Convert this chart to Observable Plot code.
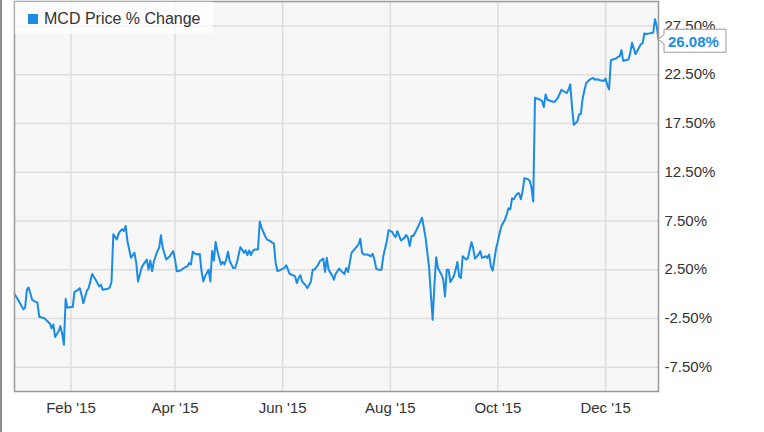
<!DOCTYPE html>
<html><head><meta charset="utf-8">
<script src="https://cdn.jsdelivr.net/npm/d3@7"></script>
<script src="https://cdn.jsdelivr.net/npm/@observablehq/plot@0.6"></script>
<style>
html,body{margin:0;padding:0;background:#fff;}
#chart{position:relative;width:764px;height:432px;overflow:hidden}
</style></head><body><div id="chart"></div>
<script>
const seriesName = "MCD Price % Change";
const lastLabel = "26.08%";
const dates = [
"2014-12-31","2015-01-02","2015-01-05","2015-01-06","2015-01-07","2015-01-08","2015-01-10","2015-01-11","2015-01-13","2015-01-14",
"2015-01-16","2015-01-17","2015-01-19","2015-01-20","2015-01-21","2015-01-22","2015-01-23","2015-01-25","2015-01-26","2015-01-27",
"2015-01-28","2015-01-29","2015-01-30","2015-02-01","2015-02-02","2015-02-03","2015-02-05","2015-02-06","2015-02-07","2015-02-08",
"2015-02-10","2015-02-11","2015-02-13","2015-02-15","2015-02-17","2015-02-18","2015-02-19","2015-02-22","2015-02-23","2015-02-24",
"2015-02-25","2015-02-27","2015-02-28","2015-03-01","2015-03-02","2015-03-03","2015-03-04","2015-03-05","2015-03-07","2015-03-08",
"2015-03-09","2015-03-10","2015-03-11","2015-03-13","2015-03-14","2015-03-16","2015-03-17","2015-03-18","2015-03-19","2015-03-20",
"2015-03-22","2015-03-23","2015-03-24","2015-03-25","2015-03-27","2015-03-29","2015-03-31","2015-04-01","2015-04-02","2015-04-04",
"2015-04-06","2015-04-08","2015-04-09","2015-04-10","2015-04-11","2015-04-12","2015-04-14","2015-04-15","2015-04-16","2015-04-17",
"2015-04-18","2015-04-20","2015-04-21","2015-04-22","2015-04-23","2015-04-24","2015-04-25","2015-04-27","2015-04-28","2015-04-29",
"2015-04-30","2015-05-01","2015-05-02","2015-05-04","2015-05-05","2015-05-06","2015-05-08","2015-05-09","2015-05-10","2015-05-11",
"2015-05-12","2015-05-13","2015-05-14","2015-05-15","2015-05-16","2015-05-18","2015-05-19","2015-05-20","2015-05-22","2015-05-23",
"2015-05-25","2015-05-26","2015-05-27","2015-05-28","2015-05-29","2015-05-31","2015-06-02","2015-06-03","2015-06-05","2015-06-07",
"2015-06-08","2015-06-09","2015-06-10","2015-06-11","2015-06-12","2015-06-14","2015-06-15","2015-06-17","2015-06-18","2015-06-19",
"2015-06-21","2015-06-22","2015-06-24","2015-06-25","2015-06-26","2015-06-27","2015-06-29","2015-06-30","2015-07-01","2015-07-03",
"2015-07-04","2015-07-06","2015-07-07","2015-07-08","2015-07-09","2015-07-10","2015-07-12","2015-07-14","2015-07-15","2015-07-16",
"2015-07-17","2015-07-19","2015-07-21","2015-07-22","2015-07-23","2015-07-24","2015-07-25","2015-07-27","2015-07-28","2015-07-30",
"2015-07-31","2015-08-02","2015-08-03","2015-08-04","2015-08-05","2015-08-07","2015-08-09","2015-08-10","2015-08-11","2015-08-12",
"2015-08-13","2015-08-14","2015-08-16","2015-08-18","2015-08-19","2015-08-21","2015-08-23","2015-08-24","2015-08-25","2015-08-26",
"2015-08-27","2015-08-28","2015-08-30","2015-08-31","2015-09-01","2015-09-02","2015-09-03","2015-09-04","2015-09-06","2015-09-07",
"2015-09-08","2015-09-09","2015-09-10","2015-09-11","2015-09-13","2015-09-14","2015-09-16","2015-09-17","2015-09-18","2015-09-20",
"2015-09-21","2015-09-22","2015-09-24","2015-09-25","2015-09-26","2015-09-27","2015-09-28","2015-09-30","2015-10-01","2015-10-02",
"2015-10-03","2015-10-05","2015-10-06","2015-10-07","2015-10-08","2015-10-09","2015-10-10","2015-10-11","2015-10-12","2015-10-13",
"2015-10-14","2015-10-15","2015-10-16","2015-10-18","2015-10-19","2015-10-20","2015-10-21","2015-10-22","2015-10-25","2015-10-26",
"2015-10-27","2015-10-28","2015-10-29","2015-10-31","2015-11-02","2015-11-04","2015-11-06","2015-11-07","2015-11-09","2015-11-10",
"2015-11-11","2015-11-12","2015-11-13","2015-11-15","2015-11-16","2015-11-17","2015-11-18","2015-11-19","2015-11-20","2015-11-22",
"2015-11-24","2015-11-25","2015-11-26","2015-11-28","2015-11-30","2015-12-01","2015-12-02","2015-12-03","2015-12-04","2015-12-05",
"2015-12-07","2015-12-08","2015-12-09","2015-12-10","2015-12-11","2015-12-12","2015-12-14","2015-12-15","2015-12-16","2015-12-18",
"2015-12-19","2015-12-20","2015-12-21","2015-12-22","2015-12-23","2015-12-24","2015-12-26","2015-12-28","2015-12-29","2015-12-30",
"2015-12-31"
];
const pct = [
0,-0.60,-1.57,-1.40,0.43,0.67,-0.60,-0.71,-0.88,-2.33,
-2.43,-2.50,-2.84,-3.02,-3.53,-3.12,-4.40,-3.81,-3.29,-4.05,
-5.20,-0.50,-1.40,-1.33,-1.33,0.19,0.43,0.60,-0.09,-0.95,
0.33,0.60,2.05,1.47,0.78,0.95,0.43,0.53,0.67,1.29,
6.12,5.60,6.19,6.47,6.64,6.47,6.98,5.43,3.71,3.98,
4.22,3.19,1.29,2.67,3.02,3.53,2.50,3.43,2.33,3.36,
4.40,4.74,6.02,4.74,3.53,3.88,4.40,3.53,2.33,2.40,
2.67,2.84,3.19,3.02,4.33,4.16,4.05,4.12,2.33,1.29,
1.81,2.50,1.29,4.40,3.43,5.33,4.40,3.02,3.29,3.02,
3.53,4.33,3.36,2.67,2.67,3.19,4.81,4.57,4.22,4.47,
3.98,4.47,3.98,4.40,4.57,4.57,7.43,6.81,5.95,5.60,
5.43,5.26,5.19,3.19,2.33,2.50,2.67,2.95,2.05,1.91,
1.81,1.12,1.64,1.91,1.29,0.88,0.60,1.29,2.50,2.50,
2.95,3.36,3.64,2.26,3.71,2.50,1.91,1.47,2.05,2.60,
2.40,2.05,2.67,2.26,3.19,4.22,4.66,5.08,5.66,4.22,
4.05,4.05,3.87,4.12,3.53,2.60,2.50,2.50,3.87,5.42,
6.55,6.38,6.04,5.83,6.45,5.49,5.76,6.04,5.76,4.91,
5.94,5.94,6.62,7.41,7.83,5.76,2.67,-0.08,-2.65,0.95,
3.77,2.67,1.98,1.47,-0.25,2.50,2.50,1.23,1.81,2.50,
3.29,1.81,1.64,3.87,3.53,3.70,5.32,4.66,3.63,4.05,
4.39,3.70,3.87,3.70,4.05,2.84,2.40,4.73,5.42,6.28,
6.97,7.65,8.17,8.79,8.69,9.82,9.72,10.06,10.30,10.34,
9.72,10.58,11.88,11.78,11.61,10.92,9.48,20.13,19.92,19.79,
19.17,20.47,19.92,19.79,19.68,20.13,20.95,20.82,20.61,20.95,
21.50,19.17,17.35,17.69,18.41,18.48,20.03,20.88,21.64,21.98,
22.16,21.98,22.02,21.92,21.85,22.09,21.40,20.99,23.98,24.05,
24.15,24.32,24.39,25.01,23.91,23.98,24.05,24.73,25.76,24.60,
24.94,25.28,25.63,25.70,26.73,26.66,26.73,26.80,28.17,27.48,
26.08
];
const xTicks = ["2015-02-01","2015-04-01","2015-06-01","2015-08-01","2015-10-01","2015-12-01"];
const yTicks = [-7.5,-2.5,2.5,7.5,12.5,17.5,22.5,27.5];
const xDomain = ["2014-12-31","2015-12-31"];
const yDomain = [-10, 30];

const parse = s => new Date(s + "T00:00:00Z");
const data = dates.map((d, i) => ({date: parse(d), value: pct[i]}));
const xTickDates = xTicks.map(parse);
const blue = "#1a8ce6";
const font = "'Liberation Sans', Arial, Helvetica, sans-serif";

const chart = Plot.plot({
  width: 764, height: 432,
  marginLeft: 14, marginRight: 106, marginTop: 1, marginBottom: 41,
  style: {fontFamily: font, fontSize: "15px", color: "#333", background: "#fff", overflow: "visible"},
  x: {type: "utc", domain: xDomain.map(parse), ticks: xTickDates, tickFormat: d3.utcFormat("%b '%y"), tickSize: 0, tickPadding: 11, label: null},
  y: {domain: yDomain, axis: "right", ticks: yTicks, tickFormat: d => d.toFixed(2) + "%", tickSize: 0, tickPadding: 6, label: null},
  marks: [
    Plot.frame({fill: "#f7f7f7"}),
    Plot.ruleX(xTickDates, {stroke: "#dddddd", strokeWidth: 1.5}),
    Plot.ruleY(yTicks, {stroke: "#dddddd", strokeWidth: 1.5}),
    Plot.line(data, {x: "date", y: "value", stroke: blue, strokeWidth: 2, strokeLinejoin: "round", strokeLinecap: "round"}),
    Plot.frame({stroke: "#999999", strokeWidth: 1.5})
  ]
});

document.getElementById("chart").appendChild(chart);
const svg = d3.select(chart);

// outer left border
svg.append("rect").attr("x", 0).attr("y", 0).attr("width", 2).attr("height", 432).attr("fill", "#8c8c8c");

// legend (inside plot, top-left)
const lg = svg.append("g").attr("text-anchor", "start");
lg.append("rect").attr("x", 14.75).attr("y", 1.75).attr("width", 198).attr("height", 32).attr("fill", "#ffffff").attr("fill-opacity", 0.7);
lg.append("rect").attr("x", 28).attr("y", 14).attr("width", 10).attr("height", 10).attr("fill", blue);
lg.append("text").attr("x", 44).attr("y", 24).attr("font-size", 16).attr("fill", "#333").attr("font-family", font)
  .attr("text-anchor", "start").text(seriesName);

// end-value label
const sx = chart.scale("x"), sy = chart.scale("y");
const last = data[data.length - 1];
const px = sx.apply(last.date), py = sy.apply(last.value);
const g = svg.append("g").attr("text-anchor", "start");
g.append("path")
  .attr("d", `M${px},${py} L${px + 6},${py - 4.5} L${px + 6},${py - 10} L${px + 68},${py - 10} L${px + 68},${py + 13} L${px + 6},${py + 13} L${px + 6},${py + 4.5} Z`)
  .attr("fill", "#fff").attr("stroke", "#9a9a9a").attr("stroke-width", 1);
g.append("text").attr("x", px + 10).attr("y", py + 7.5).attr("font-size", 15).attr("font-weight", "bold")
  .attr("fill", blue).attr("font-family", font).attr("text-anchor", "start").text(lastLabel);
</script></body></html>
